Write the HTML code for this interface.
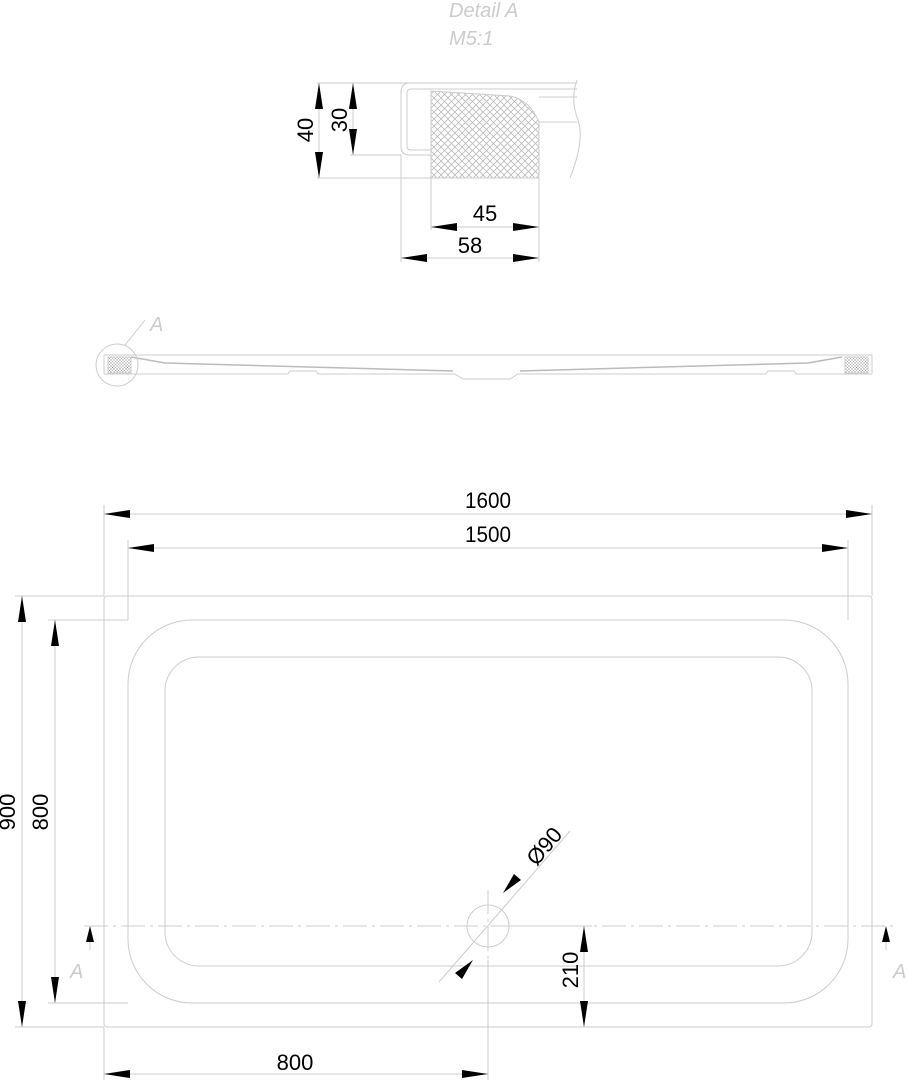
<!DOCTYPE html>
<html><head><meta charset="utf-8"><style>
html,body{margin:0;padding:0;background:#fff;width:907px;height:1080px;overflow:hidden}
svg{display:block}
text{font-family:"Liberation Sans",sans-serif;fill:#000}
</style></head><body>
<svg width="907" height="1080" viewBox="0 0 907 1080" xmlns="http://www.w3.org/2000/svg">
<defs>
<marker id="a" viewBox="0 0 26 8" refX="26" refY="4" markerWidth="26" markerHeight="8" markerUnits="userSpaceOnUse" orient="auto-start-reverse"><path d="M26,4 L0,0 L0,8 Z" fill="#000"/></marker>
<pattern id="h" width="7" height="7" patternUnits="userSpaceOnUse"><path d="M0,0 L7,7 M7,0 L0,7" stroke="#bbb" stroke-width="0.8"/></pattern>
<pattern id="h2" width="3" height="3" patternUnits="userSpaceOnUse"><path d="M0,0 L3,3 M3,0 L0,3" stroke="#aaa" stroke-width="0.5"/></pattern>
</defs>
<g fill="none" stroke="#ccc" stroke-width="1">
<!-- Detail A -->
<path d="M317,83 H577 M401,92 Q401,83 410,83 M401,92 V147 Q401,155 410,155 H431 M407,93 Q407,89 411,89 H577 M407,93 V146 Q407,150 411,150 H431"/>
<path d="M431,91 V178 H539 V122 Q530,100 510,96 L431,91 Z" fill="url(#h)"/>
<path d="M539,97 H577 M539,122 H577 M317,178 H431 M350,155 H401 M577,80 Q570,100 578,120 Q585,140 570,178"/>
<path d="M401,155 V262 M431,178 V230 M539,178 V262"/>
<!-- side view -->
<path d="M104,355 H872 M104,374 H288 L290,371 H316 L318,374 H455 L463,379 H510 L518,374 H766 L768,371 H794 L796,374 H872 M104,355 V374 M872,355 V374"/>
<path d="M131,357 L165,363 L453,371 M520,371 L808,363 L842,357" stroke="#bbb" stroke-width="1.5"/>
<rect x="108" y="357" width="23" height="16" fill="url(#h2)"/>
<rect x="845" y="357" width="23" height="16" fill="url(#h2)"/>
<circle cx="117" cy="365" r="21"/>
<path d="M125,345 L145,320"/>
<!-- plan -->
<rect x="104" y="596" width="768" height="431" rx="3"/>
<rect x="128" y="620" width="720" height="383" rx="64"/>
<rect x="165" y="657" width="647" height="309" rx="34"/>
<circle cx="488" cy="926" r="21"/>
<path d="M84,926 H895" stroke-dasharray="24,5,3,5"/>
<path d="M488,890 V1080" stroke-dasharray="24,5,3,5"/>
<path d="M488,960 V1080"/>
<path d="M104,505 V596 M872,505 V596 M128,540 V620 M848,540 V620 M15,596 H104 M48,620 H128 M48,1003 H128 M15,1027 H104 M104,1027 V1080 M510,926 H592 M510,1027 H592"/>
<path d="M439,982 L570,831"/>
<path d="M90,930 V950 M886,930 V950"/>
</g>
<g stroke="#ccc" stroke-width="1" fill="none">
<line x1="319" y1="83" x2="319" y2="178" marker-start="url(#a)" marker-end="url(#a)"/>
<line x1="353" y1="83" x2="353" y2="155" marker-start="url(#a)" marker-end="url(#a)"/>
<line x1="431" y1="227" x2="539" y2="227" marker-start="url(#a)" marker-end="url(#a)"/>
<line x1="401" y1="258" x2="539" y2="258" marker-start="url(#a)" marker-end="url(#a)"/>
<line x1="104" y1="514" x2="872" y2="514" marker-start="url(#a)" marker-end="url(#a)"/>
<line x1="128" y1="548" x2="848" y2="548" marker-start="url(#a)" marker-end="url(#a)"/>
<line x1="22" y1="596" x2="22" y2="1027" marker-start="url(#a)" marker-end="url(#a)"/>
<line x1="55" y1="620" x2="55" y2="1003" marker-start="url(#a)" marker-end="url(#a)"/>
<line x1="584" y1="926" x2="584" y2="1027" marker-start="url(#a)" marker-end="url(#a)"/>
<line x1="104" y1="1074" x2="488" y2="1074" marker-start="url(#a)" marker-end="url(#a)"/>
</g>
<path d="M90,926 L86,942 L94,942 Z M886,926 L882,942 L890,942 Z" fill="#000"/>
<path d="M503,893 L521,880 L514,874 Z M473,960 L455,973 L462,979 Z" fill="#000"/>
<g font-size="22" text-anchor="middle">
<text x="488" y="508" textLength="46" lengthAdjust="spacingAndGlyphs">1600</text>
<text x="488" y="542" textLength="46" lengthAdjust="spacingAndGlyphs">1500</text>
<text x="295" y="1070">800</text>
<text x="485" y="221">45</text>
<text x="470" y="253">58</text>
<text transform="translate(15,812) rotate(-90)">900</text>
<text transform="translate(48,812) rotate(-90)">800</text>
<text transform="translate(578,970) rotate(-90)">210</text>
<text transform="translate(313,130) rotate(-90)">40</text>
<text transform="translate(347,120) rotate(-90)">30</text>
<text transform="translate(550,851) rotate(-50)">Ø90</text>
</g>
<g font-size="20" font-style="italic">
<text x="449" y="17" style="fill:#ccc">Detail  A</text>
<text x="449" y="45" style="fill:#ccc">M5:1</text>
<text x="150" y="331" style="fill:#ccc">A</text>
<text x="70" y="978" style="fill:#ccc">A</text>
<text x="893" y="978" style="fill:#ccc">A</text>
</g>
</svg>
</body></html>
